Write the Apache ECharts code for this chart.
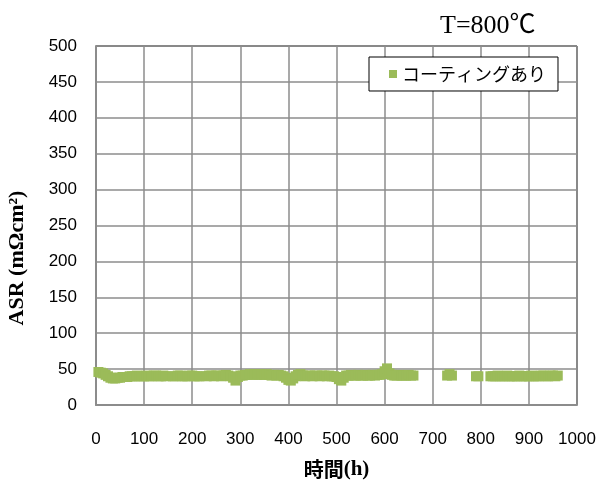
<!DOCTYPE html>
<html><head><meta charset="utf-8">
<script src="https://cdn.jsdelivr.net/npm/echarts@6/dist/echarts.min.js"></script>
<style>html,body{margin:0;padding:0;background:#fff}#c{width:604px;height:488px}</style>
</head><body><div id="c"></div>
<script>
const seriesName = 'コーティングあり';
const titleText = 'T=800℃';
const xTicks = [0,100,200,300,400,500,600,700,800,900,1000];
const yTicks = [0,50,100,150,200,250,300,350,400,450,500];
const timeH = [
  5,10,15,20,25,30,35,40,45,50, 55,60,65,70,75,80,85,90,95,100, 105,110,115,120,125,130,135,140,145,
  160,165,170,175,180,185,190,195,200,205,210,215,
  230,235,240,245,250,255,260,265,270,275,
  280,285,290,295,300,305,310,315,320,325,
  330,335,340,345,350,355,360,365,370,375,
  380,385,390,395,400,405,410,415,420,425,
  430,435,440,445,450,455,460,465,470,475,
  480,485,490,495,500,505,510,515,520,525,
  530,535,540,545,550,555,560,565,570,575,
  580,585,590,595,600,605,610,615,620,625,
  630,635,640,645,650,655,660,
  730,735,740, 790,795,
  820,825,830,835,840,845,850,855,860,865,
  870,875,880,885,890,895,900,905,910,915,
  920,925,930,935,940,945,950,955,960
];
const asr = [
  46,45,44,42,40,38,37,37,38,38, 39,39,39,40,40,40,41,40,40,40, 41,40,40,41,41,40,40,41,40,
  40,40,41,41,40,40,40,41,41,40,40,40,
  40,41,41,40,41,41,40,41,42,41,
  40,38,34,39,41,41,42,42,43,42,
  43,42,43,42,42,43,42,41,42,41,
  42,41,40,38,35,34,37,40,42,43,
  41,40,41,41,40,41,41,40,41,41,
  40,41,40,40,39,36,34,38,41,41,
  42,41,41,42,41,41,42,41,41,42,
  41,42,42,43,47,51,44,42,41,41,
  42,41,41,41,42,41,41,
  41,43,41, 40,40,
  40,40,40,41,40,40,40,41,40,40,
  40,40,41,40,40,40,40,41,40,40,
  40,41,41,40,40,41,41,40,41
];
const points = timeH.map((t, i) => [t, asr[i]]);

const chart = echarts.init(document.getElementById('c'), null, {renderer: 'canvas'});
chart.setOption({
  animation: false,
  backgroundColor: '#fff',
  title: {
    text: titleText, left: 435, top: 8,
    textStyle: {fontFamily: 'Liberation Serif, Noto Sans CJK JP', fontSize: 26, fontWeight: 'normal', color: '#000'}
  },
  legend: {
    left: 369, top: 57, orient: 'vertical',
    padding: [8, 12, 8, 20],
    backgroundColor: '#fff', borderColor: '#000', borderWidth: 1,
    itemWidth: 8, itemHeight: 8, icon: 'rect',
    textStyle: {fontFamily: 'Noto Sans CJK JP', fontSize: 18, color: '#000'},
    data: [seriesName]
  },
  grid: {left: 96, right: 27, top: 46, bottom: 83, show: true, borderColor: '#000', borderWidth: 1},
  xAxis: {
    type: 'value', min: xTicks[0], max: xTicks[xTicks.length-1], interval: 100,
    name: '{a|時間}{b|(h)}', nameLocation: 'middle', nameGap: 54,
    nameTextStyle: {rich: {
      a: {fontFamily: 'Noto Sans CJK JP', fontWeight: 'bold', fontSize: 20, color: '#000'},
      b: {fontFamily: 'Liberation Serif', fontWeight: 'bold', fontSize: 21, color: '#000'}
    }},
    axisLine: {show: true, lineStyle: {color: '#8c8c8c', width: 2}},
    axisTick: {show: false},
    axisLabel: {margin: 26, fontFamily: 'Liberation Sans', fontSize: 17, color: '#000',
      formatter: v => String(v)},
    splitLine: {show: true, lineStyle: {color: '#8c8c8c', width: 1.5}}
  },
  yAxis: {
    type: 'value', min: yTicks[0], max: yTicks[yTicks.length-1], interval: 50,
    axisLine: {show: true, lineStyle: {color: '#8c8c8c', width: 2}},
    axisTick: {show: false},
    axisLabel: {margin: 19, fontFamily: 'Liberation Sans', fontSize: 17, color: '#000'},
    splitLine: {show: true, lineStyle: {color: '#8c8c8c', width: 1.5}}
  },
  graphic: [{
    type: 'text', x: 17, y: 258, rotation: Math.PI / 2,
    style: {text: 'ASR (mΩcm²)', fontFamily: 'Liberation Serif', fontWeight: 'bold', fontSize: 22,
      fill: '#000', align: 'center', verticalAlign: 'middle'}
  }],
  series: [{
    name: seriesName, type: 'scatter', data: points,
    symbol: 'rect', symbolSize: 10,
    itemStyle: {color: '#9BBB59', opacity: 1}
  }]
});
</script></body></html>
